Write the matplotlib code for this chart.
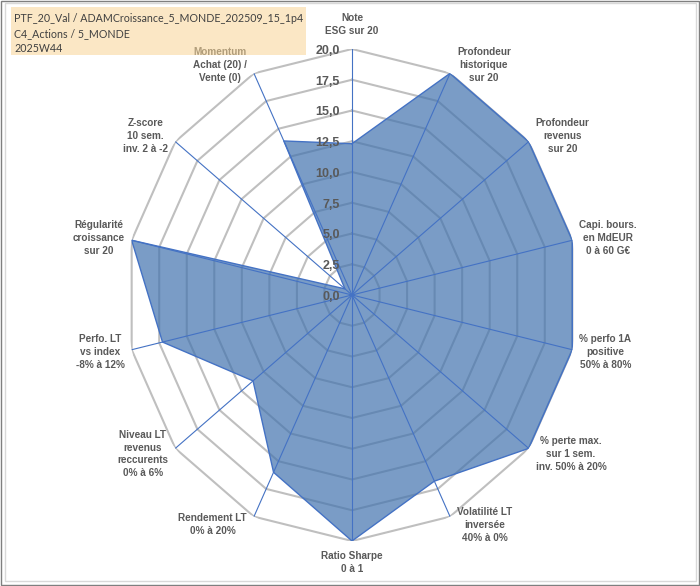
import matplotlib
matplotlib.use("Agg")
import matplotlib.pyplot as plt
import matplotlib.patches as mpatches
import numpy as np

# Données du radar (14 critères, échelle 0 à 20)
criteres = ["Note\nESG sur 20",
            "Profondeur\nhistorique\nsur 20",
            "Profondeur\nrevenus\nsur 20",
            "Capi. bours.\nen MdEUR\n0 à 60 G€",
            "% perfo 1A\npositive\n50% à 80%",
            "% perte max.\nsur 1 sem.\ninv. 50% à 20%",
            "Volatilité LT\ninversée\n40% à 0%",
            "Ratio Sharpe\n0 à 1",
            "Rendement LT\n0% à 20%",
            "Niveau LT\nrevenus\nreccurents\n0% à 6%",
            "Perfo. LT\nvs index\n-8% à 12%",
            "Régularité\ncroissance\nsur 20",
            "Z-score\n10 sem.\ninv. 2 à -2",
            "Momentum\nAchat (20) /\nVente (0)"]
notes = [12.3, 20, 20, 20, 20, 20, 16.8, 20, 16.0, 11.2, 17.2, 20, 0.8, 13.9]
graduations = [0, 2.5, 5, 7.5, 10, 12.5, 15, 17.5, 20]
titre = ["PTF_20_Val / ADAMCroissance_5_MONDE_202509_15_1p4",
         "C4_Actions / 5_MONDE",
         "2025W44"]

plt.rcParams['font.family'] = ['Lato', 'DejaVu Sans']
police_lab = ['Liberation Sans', 'DejaVu Sans']

fig = plt.figure(figsize=(7.0, 5.86), dpi=100)
fig.patch.set_facecolor("white")

# axe polaire étiré (le graphique d'origine est légèrement ovale)
ax = fig.add_axes([0.18, 0.0768, 0.6457, 0.8396], projection="polar")
ax.set_aspect("auto")
ax.set_theta_zero_location("N")
ax.set_theta_direction(-1)
ax.set_ylim(0, 20)
ax.grid(False)
ax.spines["polar"].set_visible(False)
ax.set_xticks([])
ax.set_yticks([])
ax.patch.set_alpha(0)

n = len(criteres)
angles = np.linspace(0, 2 * np.pi, n, endpoint=False)
angles_f = np.append(angles, angles[0])

# anneaux polygonaux gris
for g in graduations[1:]:
    ax.plot(angles_f, [g] * (n + 1), color="#BFBFBF", lw=1.5, zorder=1)

# surface des notes
vals_f = np.append(notes, notes[0])
ax.fill(angles_f, vals_f, color="#4273AE", alpha=0.7, zorder=2, lw=0)
ax.plot(angles_f, vals_f, color="#4472C4", lw=1.0, zorder=3)

# rayons bleus
for a in angles:
    ax.plot([a, a], [0, 20], color="#4472C4", lw=0.8, zorder=4)

# libellés de l'échelle
for g in graduations:
    ax.annotate(f"{g:.1f}".replace(".", ","), xy=(0, g), xytext=(-12, -2),
                textcoords="offset pixels", ha="right", va="center",
                fontsize=9, fontweight="bold", color="#595959", zorder=5,
                family=police_lab)

# libellés des critères
for a, lab in zip(angles, criteres):
    s, c = np.sin(a), np.cos(a)
    if abs(s) < 0.1:
        ha, va = "center", ("bottom" if c > 0 else "top")
        off = (0, 13 if c > 0 else -10)
    else:
        ha, va = ("left" if s > 0 else "right"), "center"
        off = (7 if s > 0 else -7, 9 * c)
    ax.annotate(lab, xy=(a, 20), xytext=off, textcoords="offset pixels",
                ha=ha, va=va, multialignment="center", fontsize=7.2,
                fontweight="bold", color="#595959", linespacing=1.35,
                annotation_clip=False, zorder=5, family=police_lab)

# cartouche du titre
fig.add_artist(mpatches.Rectangle((11 / 700, 1 - 55 / 586), 295 / 700, 48 / 586,
                                  transform=fig.transFigure, facecolor="#F9D596",
                                  alpha=0.55, edgecolor="none", zorder=6))
for i, ligne in enumerate(titre):
    fig.text(14 / 700, 1 - (18 + 15.5 * i) / 586, ligne, ha="left", va="center",
             fontsize=7.7, color="#404040", zorder=7)

# cadre
fig.add_artist(mpatches.Rectangle((5 / 700, 5 / 586), 691 / 700, 578 / 586,
                                  transform=fig.transFigure, fill=False,
                                  edgecolor="#D9D9D9", lw=1, zorder=8))
fig.add_artist(mpatches.Rectangle((1 / 700, 1 / 586), 698 / 700, 584 / 586,
                                  transform=fig.transFigure, fill=False,
                                  edgecolor="#7F7F7F", lw=1, zorder=8))

fig.savefig("out.png", dpi=100)
